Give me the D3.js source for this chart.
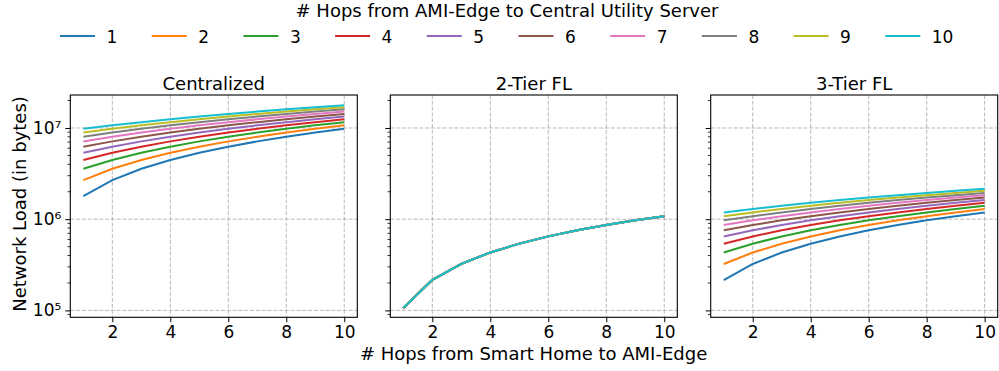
<!DOCTYPE html>
<html>
<head>
<meta charset="utf-8">
<script src="https://cdn.jsdelivr.net/npm/d3@7"></script>
<style>
  body { margin: 0; background: #fff; }
  svg text { font-family: "DejaVu Sans", sans-serif; fill: #000; }
</style>
</head>
<body>
<svg id="chart" width="999" height="371"></svg>
<script>
// hops from smart home to AMI-edge (x axis)
const hops = [1, 2, 3, 4, 5, 6, 7, 8, 9, 10];
// hops from AMI-edge to central server (one series each)
const series = ["1", "2", "3", "4", "5", "6", "7", "8", "9", "10"];
const titles = ["Centralized", "2-Tier FL", "3-Tier FL"];
const xTicks = [2, 4, 6, 8, 10];
const yTicks = [1e5, 1e6, 1e7];

const centralized = [
  [1.79e6, 2.68e6, 3.57e6, 4.46e6, 5.35e6, 6.24e6, 7.13e6, 8.02e6, 8.91e6, 9.80e6],
  [2.68e6, 3.57e6, 4.46e6, 5.35e6, 6.24e6, 7.13e6, 8.02e6, 8.91e6, 9.80e6, 10.69e6],
  [3.57e6, 4.46e6, 5.35e6, 6.24e6, 7.13e6, 8.02e6, 8.91e6, 9.80e6, 10.69e6, 11.58e6],
  [4.46e6, 5.35e6, 6.24e6, 7.13e6, 8.02e6, 8.91e6, 9.80e6, 10.69e6, 11.58e6, 12.47e6],
  [5.35e6, 6.24e6, 7.13e6, 8.02e6, 8.91e6, 9.80e6, 10.69e6, 11.58e6, 12.47e6, 13.36e6],
  [6.24e6, 7.13e6, 8.02e6, 8.91e6, 9.80e6, 10.69e6, 11.58e6, 12.47e6, 13.36e6, 14.25e6],
  [7.13e6, 8.02e6, 8.91e6, 9.80e6, 10.69e6, 11.58e6, 12.47e6, 13.36e6, 14.25e6, 15.14e6],
  [8.02e6, 8.91e6, 9.80e6, 10.69e6, 11.58e6, 12.47e6, 13.36e6, 14.25e6, 15.14e6, 16.03e6],
  [8.91e6, 9.80e6, 10.69e6, 11.58e6, 12.47e6, 13.36e6, 14.25e6, 15.14e6, 16.03e6, 16.92e6],
  [9.80e6, 10.69e6, 11.58e6, 12.47e6, 13.36e6, 14.25e6, 15.14e6, 16.03e6, 16.92e6, 17.81e6]
];

// all ten series coincide in the 2-tier panel
const twoTierLoad = [1.06e5, 2.16e5, 3.24e5, 4.32e5, 5.40e5, 6.48e5, 7.56e5, 8.64e5, 9.72e5, 1.08e6];
const twoTier = series.map(() => twoTierLoad);

const threeTier = [
  [2.15e5, 3.23e5, 4.31e5, 5.39e5, 6.47e5, 7.55e5, 8.63e5, 9.71e5, 1.079e6, 1.187e6],
  [3.23e5, 4.31e5, 5.39e5, 6.47e5, 7.55e5, 8.63e5, 9.71e5, 1.079e6, 1.187e6, 1.295e6],
  [4.31e5, 5.39e5, 6.47e5, 7.55e5, 8.63e5, 9.71e5, 1.079e6, 1.187e6, 1.295e6, 1.403e6],
  [5.39e5, 6.47e5, 7.55e5, 8.63e5, 9.71e5, 1.079e6, 1.187e6, 1.295e6, 1.403e6, 1.511e6],
  [6.47e5, 7.55e5, 8.63e5, 9.71e5, 1.079e6, 1.187e6, 1.295e6, 1.403e6, 1.511e6, 1.619e6],
  [7.55e5, 8.63e5, 9.71e5, 1.079e6, 1.187e6, 1.295e6, 1.403e6, 1.511e6, 1.619e6, 1.727e6],
  [8.63e5, 9.71e5, 1.079e6, 1.187e6, 1.295e6, 1.403e6, 1.511e6, 1.619e6, 1.727e6, 1.835e6],
  [9.71e5, 1.079e6, 1.187e6, 1.295e6, 1.403e6, 1.511e6, 1.619e6, 1.727e6, 1.835e6, 1.943e6],
  [1.079e6, 1.187e6, 1.295e6, 1.403e6, 1.511e6, 1.619e6, 1.727e6, 1.835e6, 1.943e6, 2.051e6],
  [1.187e6, 1.295e6, 1.403e6, 1.511e6, 1.619e6, 1.727e6, 1.835e6, 1.943e6, 2.051e6, 2.159e6]
];

const panelData = [centralized, twoTier, threeTier];
const colors = d3.schemeCategory10;

const svg = d3.select("#chart");
const panelLeft = [70.3, 390.3, 710.7];
const panelWidth = 287;
const plotTop = 95, plotBottom = 317.3;
const tickFont = 17, labelFont = 18;

const y = d3.scaleLog().domain([8.4e4, 2.3e7]).range([plotBottom, plotTop]);
const minorTicks = [];
[1e4, 1e5, 1e6, 1e7].forEach(p => {
  for (let m = 2; m <= 9; m++) {
    const v = m * p;
    if (v >= 8.4e4 && v <= 2.3e7) minorTicks.push(v);
  }
});

const sup = { 5: "\u2075", 6: "\u2076", 7: "\u2077" };

panelData.forEach((data, pi) => {
  const x0 = panelLeft[pi];
  const x = d3.scaleLinear().domain([0.55, 10.45]).range([x0, x0 + panelWidth]);
  const g = svg.append("g");

  // grid
  g.selectAll(".gx").data(xTicks).join("line")
    .attr("x1", d => x(d)).attr("x2", d => x(d))
    .attr("y1", plotTop).attr("y2", plotBottom)
    .attr("stroke", "#b0b0b0").attr("stroke-width", 0.9)
    .attr("stroke-dasharray", "4,1.8");
  g.selectAll(".gy").data(yTicks).join("line")
    .attr("x1", x0).attr("x2", x0 + panelWidth)
    .attr("y1", d => y(d)).attr("y2", d => y(d))
    .attr("stroke", "#b0b0b0").attr("stroke-width", 0.9)
    .attr("stroke-dasharray", "4,1.8");

  // lines
  const line = d3.line()
    .x((d, i) => x(hops[i]))
    .y(d => y(d));

  data.forEach((vals, si) => {
    g.append("path")
      .attr("fill", "none")
      .attr("stroke", colors[si])
      .attr("stroke-width", 2)
      .attr("d", line(vals));
  });

  // x axis
  const xa = g.append("g")
    .attr("transform", "translate(0," + plotBottom + ")")
    .call(d3.axisBottom(x).tickValues(xTicks).tickSize(5).tickPadding(4).tickFormat(d3.format("d")));
  xa.select(".domain").remove();
  xa.selectAll("text").attr("font-size", tickFont).attr("font-family", "DejaVu Sans");
  xa.selectAll("line").attr("stroke", "#000");

  // y axis
  const ya = g.append("g")
    .attr("transform", "translate(" + x0 + ",0)")
    .call(d3.axisLeft(y).tickValues(yTicks).tickSize(5).tickPadding(4)
      .tickFormat(d => pi === 0 ? "10" + sup[Math.round(Math.log10(d))] : ""));
  ya.select(".domain").remove();
  ya.selectAll("text").attr("font-size", tickFont).attr("font-family", "DejaVu Sans");
  ya.selectAll("line").attr("stroke", "#000");

  g.selectAll(".minor").data(minorTicks).join("line")
    .attr("x1", x0 - 2.8).attr("x2", x0)
    .attr("y1", d => y(d)).attr("y2", d => y(d))
    .attr("stroke", "#000").attr("stroke-width", 0.8);

  // frame
  g.append("rect")
    .attr("x", x0).attr("y", plotTop)
    .attr("width", panelWidth).attr("height", plotBottom - plotTop)
    .attr("fill", "none").attr("stroke", "#000").attr("stroke-width", 1.1);

  g.append("text")
    .attr("x", x0 + panelWidth / 2).attr("y", 89.5)
    .attr("text-anchor", "middle").attr("font-size", labelFont)
    .text(titles[pi]);
});

// axis labels
svg.append("text")
  .attr("x", 533.6).attr("y", 360)
  .attr("text-anchor", "middle").attr("font-size", labelFont)
  .text("# Hops from Smart Home to AMI-Edge");

svg.append("text")
  .attr("transform", "translate(25.5,204) rotate(-90)")
  .attr("text-anchor", "middle").attr("font-size", labelFont)
  .text("Network Load (in bytes)");

// legend
svg.append("text")
  .attr("x", 507).attr("y", 17)
  .attr("text-anchor", "middle").attr("font-size", labelFont)
  .text("# Hops from AMI-Edge to Central Utility Server");

const legend = svg.append("g");
series.forEach((s, i) => {
  const lx = 60 + i * 91.7;
  legend.append("line")
    .attr("x1", lx).attr("x2", lx + 35)
    .attr("y1", 36).attr("y2", 36)
    .attr("stroke", colors[i]).attr("stroke-width", 2);
  legend.append("text")
    .attr("x", lx + 46.5).attr("y", 42.5)
    .attr("font-size", tickFont)
    .text(s);
});
</script>
</body>
</html>
